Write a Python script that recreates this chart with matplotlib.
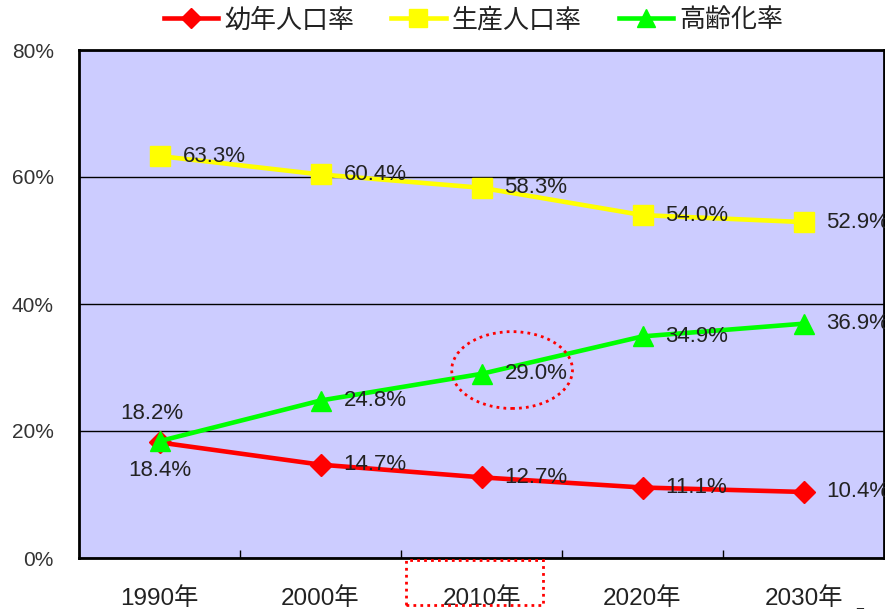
import matplotlib
matplotlib.use('Agg')
from matplotlib import pyplot as plt
from matplotlib.patches import Ellipse, Rectangle
import numpy as np

plt.rcParams['font.family'] = ['Liberation Sans', 'Noto Sans CJK JP', 'DejaVu Sans']

years = ['1990年', '2000年', '2010年', '2020年', '2030年']
young = [18.2, 14.7, 12.7, 11.1, 10.4]
working = [63.3, 60.4, 58.3, 54.0, 52.9]
aged = [18.4, 24.8, 29.0, 34.9, 36.9]
names = ['幼年人口率', '生産人口率', '高齢化率']

fig = plt.figure(figsize=(8.85, 6.11), dpi=100)
ax = fig.add_axes([79 / 885, 53 / 611, 805 / 885, 508 / 611])
ax.set_facecolor('#CCCCFF')

x = np.arange(len(years))
l1, = ax.plot(x, young, c='#FF0000', lw=3.3, marker='D', ms=11, zorder=3)
l2, = ax.plot(x, working, c='#FFFF00', lw=3.3, marker='s', ms=14, zorder=3)
l3, = ax.plot(x, aged, c='#00FF00', lw=3.3, marker='^', ms=14, zorder=3)

ax.set_xlim(-0.5, 4.5)
ax.set_ylim(0, 80)
ax.set_yticks([0, 20, 40, 60, 80])
ax.set_yticklabels(['%d%%' % v for v in [0, 20, 40, 60, 80]])
ax.set_xticks(x)
ax.set_xticklabels(years)
ax.set_xticks(x[:-1] + 0.5, minor=True)
ax.tick_params(axis='x', which='major', length=0, pad=21, labelsize=17.5, labelcolor='#222222')
ax.tick_params(axis='x', which='minor', direction='in', length=6, width=1)
ax.tick_params(axis='y', length=0, pad=18, labelsize=15, labelcolor='#333333')
ax.grid(axis='y', color='black', lw=1)
for s in ax.spines.values():
    s.set_linewidth(2)
    s.set_color('black')

# data labels
for series in (young, working, aged):
    for i, v in enumerate(series):
        if i == 0 and series is not working:
            continue
        ax.annotate('%.1f%%' % v, (i, v), xytext=(23, 0), textcoords='offset pixels',
                    ha='left', va='center', fontsize=16, color='#222222', zorder=4)
ax.annotate('%.1f%%' % young[0], (0, young[0]), xytext=(-8, 29), textcoords='offset pixels',
            ha='center', va='center', fontsize=16, color='#222222')
ax.annotate('%.1f%%' % aged[0], (0, aged[0]), xytext=(0, -29), textcoords='offset pixels',
            ha='center', va='center', fontsize=16, color='#222222')

# highlight marks
ax.add_patch(Ellipse((2.19, 29.6), 0.75, 12.1, fill=False, ec='#FF0000', lw=2,
                     ls=(0, (1, 1.5)), zorder=5))
fig.add_artist(Rectangle((406 / 885, 6 / 611), 137 / 885, 45 / 611, fill=False,
                         ec='#FF0000', lw=2, ls=(0, (1, 1.5)), transform=fig.transFigure))
fig.text(860 / 885, 2 / 611, '_', fontsize=9, ha='center', va='bottom')

fig.legend([l1, l2, l3], names, loc='center', bbox_to_anchor=(0.535, 1 - 20 / 611),
           ncol=3, frameon=False, fontsize=18.7, handlelength=2.1, handletextpad=0.23,
           columnspacing=1.42, markerscale=0.9, labelcolor='#222222')

plt.savefig('out.png', dpi=100)
